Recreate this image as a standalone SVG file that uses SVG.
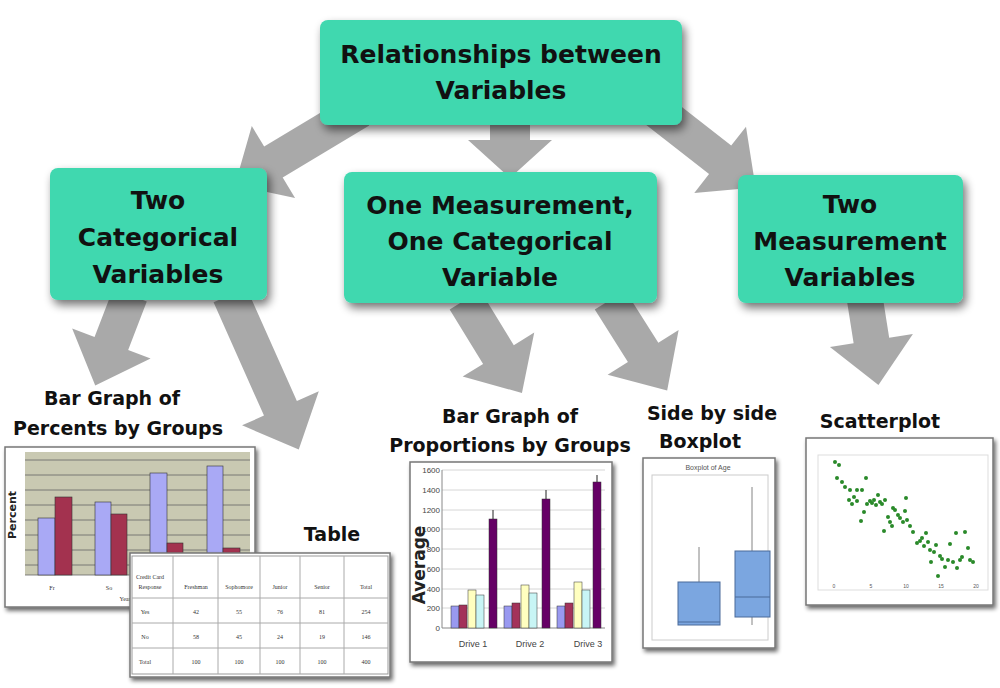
<svg xmlns="http://www.w3.org/2000/svg" width="1000" height="688" viewBox="0 0 1000 688">
<defs>
<filter id="sh" x="-20%" y="-20%" width="140%" height="150%"><feGaussianBlur in="SourceAlpha" stdDeviation="5"/><feOffset dx="3" dy="5"/><feComponentTransfer><feFuncA type="linear" slope="0.55"/></feComponentTransfer><feMerge><feMergeNode/><feMergeNode in="SourceGraphic"/></feMerge></filter>
<filter id="sh2" x="-10%" y="-10%" width="125%" height="125%"><feGaussianBlur in="SourceAlpha" stdDeviation="2"/><feOffset dx="2" dy="3"/><feComponentTransfer><feFuncA type="linear" slope="0.6"/></feComponentTransfer><feMerge><feMergeNode/><feMergeNode in="SourceGraphic"/></feMerge></filter>
</defs>
<style>
.box{fill:#3FD8AF;filter:url(#sh)}
.bt{font-family:"DejaVu Sans",sans-serif;font-weight:bold;font-size:25px;fill:#111;text-anchor:middle}
.cap{font-family:"DejaVu Sans",sans-serif;font-weight:bold;font-size:19px;fill:#111;text-anchor:middle}
.arr{fill:#9a9a9a;opacity:0.85}
.frame{fill:#fff;stroke:#777;stroke-width:1.5;filter:url(#sh2)}
.tiny{font-family:"Liberation Serif",serif;font-size:6px;fill:#333;text-anchor:middle}
.ax{font-family:"Liberation Sans",sans-serif;font-size:9px;fill:#444;text-anchor:middle}
.g{stroke:#666;stroke-width:0.8}
.gr{stroke:#ccc;stroke-width:0.8}
.dot{fill:#2a8a2a}
</style>
<g id="connectors">
<path class="arr" transform="translate(360,110) rotate(149)" d="M0,-18 L101,-18 L101,-42 L146,0 L101,42 L101,18 L0,18Z"/>
<path class="arr" transform="translate(510,110) rotate(90)" d="M0,-20 L30,-20 L30,-42 L68,0 L30,42 L30,20 L0,20Z"/>
<path class="arr" transform="translate(650,105) rotate(38)" d="M0,-18 L89,-18 L89,-42 L134,0 L89,42 L89,18 L0,18Z"/>
<path class="arr" transform="translate(130,295) rotate(111)" d="M0,-18 L52,-18 L52,-42 L97,0 L52,42 L52,18 L0,18Z"/>
<path class="arr" transform="translate(230,295) rotate(66)" d="M0,-18 L124,-18 L124,-42 L169,0 L124,42 L124,18 L0,18Z"/>
<path class="arr" transform="translate(465,300) rotate(58.5)" d="M0,-18 L64,-18 L64,-42 L109,0 L64,42 L64,18 L0,18Z"/>
<path class="arr" transform="translate(610,300) rotate(57.7)" d="M0,-18 L62,-18 L62,-42 L107,0 L62,42 L62,18 L0,18Z"/>
<path class="arr" transform="translate(865,300) rotate(81)" d="M0,-18 L41,-18 L41,-42 L86,0 L41,42 L41,18 L0,18Z"/>
</g>
<g id="n-top"><rect class="box" x="320" y="20" width="362" height="105" rx="8"/><text class="bt" x="501" y="63">Relationships between</text><text class="bt" x="501" y="99">Variables</text></g>
<g id="n-left"><rect class="box" x="50" y="168" width="217" height="132" rx="8"/><text class="bt" x="158" y="209">Two</text><text class="bt" x="158" y="246">Categorical</text><text class="bt" x="158" y="283">Variables</text></g>
<g id="n-mid"><rect class="box" x="344" y="172" width="313" height="131" rx="8"/><text class="bt" x="500" y="214">One Measurement,</text><text class="bt" x="500" y="250">One Categorical</text><text class="bt" x="500" y="286">Variable</text></g>
<g id="n-right"><rect class="box" x="738" y="175" width="225" height="128" rx="8"/><text class="bt" x="850" y="213">Two</text><text class="bt" x="850" y="250">Measurement</text><text class="bt" x="850" y="286">Variables</text></g>

<g id="bar1">
<text class="cap" x="112" y="405">Bar Graph of</text><text class="cap" x="118" y="435">Percents by Groups</text>
<rect class="frame" x="5" y="447" width="250" height="160"/>
<rect x="25" y="452" width="225" height="123" fill="#C9C9B2"/>
<g class="g" stroke="#555"><line x1="25" y1="460" x2="250" y2="460"/><line x1="25" y1="475" x2="250" y2="475"/><line x1="25" y1="490" x2="250" y2="490"/><line x1="25" y1="505" x2="250" y2="505"/><line x1="25" y1="520" x2="250" y2="520"/><line x1="25" y1="535" x2="250" y2="535"/><line x1="25" y1="550" x2="250" y2="550"/><line x1="25" y1="565" x2="250" y2="565"/><line x1="25" y1="575" x2="250" y2="575"/></g>
<g stroke="#333" stroke-width="0.6"><rect x="38" y="518" width="17" height="57" fill="#A9A9F5"/><rect x="55" y="497" width="17" height="78" fill="#A3324F"/>
<rect x="95" y="502" width="16" height="73" fill="#A9A9F5"/><rect x="111" y="514" width="16" height="61" fill="#A3324F"/>
<rect x="150" y="473" width="17" height="102" fill="#A9A9F5"/><rect x="167" y="543" width="16" height="32" fill="#A3324F"/>
<rect x="207" y="466" width="16" height="109" fill="#A9A9F5"/><rect x="223" y="548" width="17" height="27" fill="#A3324F"/></g>
<text x="16" y="515" transform="rotate(-90 16 515)" font-family="DejaVu Sans,sans-serif" font-weight="bold" font-size="11" text-anchor="middle" fill="#222">Percent</text>
<text class="tiny" x="52" y="590">Fr</text><text class="tiny" x="109" y="590">So</text><text class="tiny" x="125" y="601">Year</text>
</g>

<g id="table">
<text class="cap" x="332" y="541">Table</text>
<rect class="frame" x="130" y="553" width="260" height="124"/>
<rect x="132" y="556" width="256" height="118" fill="#fff" stroke="#999"/>
<g stroke="#aaa" stroke-width="1"><line x1="173" y1="556" x2="173" y2="674"/><line x1="218" y1="556" x2="218" y2="674"/><line x1="260" y1="556" x2="260" y2="674"/><line x1="300" y1="556" x2="300" y2="674"/><line x1="344" y1="556" x2="344" y2="674"/>
<line x1="132" y1="598" x2="388" y2="598"/><line x1="132" y1="623" x2="388" y2="623"/><line x1="132" y1="648" x2="388" y2="648"/></g>
<g class="tiny"><text x="150" y="579">Credit Card</text><text x="150" y="589">Response</text><text x="196" y="589">Freshman</text><text x="239" y="589">Sophomore</text><text x="280" y="589">Junior</text><text x="322" y="589">Senior</text><text x="366" y="589">Total</text>
<text x="145" y="614">Yes</text><text x="196" y="614">42</text><text x="239" y="614">55</text><text x="280" y="614">76</text><text x="322" y="614">81</text><text x="366" y="614">254</text>
<text x="145" y="639">No</text><text x="196" y="639">58</text><text x="239" y="639">45</text><text x="280" y="639">24</text><text x="322" y="639">19</text><text x="366" y="639">146</text>
<text x="145" y="664">Total</text><text x="196" y="664">100</text><text x="239" y="664">100</text><text x="280" y="664">100</text><text x="322" y="664">100</text><text x="366" y="664">400</text></g>
</g>

<g id="bar2">
<text class="cap" x="510" y="423">Bar Graph of</text><text class="cap" x="510" y="452">Proportions by Groups</text>
<rect class="frame" x="410" y="462" width="202" height="200"/>
<g class="gr"><line x1="442" y1="470" x2="605" y2="470"/><line x1="442" y1="490" x2="605" y2="490"/><line x1="442" y1="510" x2="605" y2="510"/><line x1="442" y1="529" x2="605" y2="529"/><line x1="442" y1="549" x2="605" y2="549"/><line x1="442" y1="569" x2="605" y2="569"/><line x1="442" y1="589" x2="605" y2="589"/><line x1="442" y1="608" x2="605" y2="608"/></g>
<line x1="442" y1="628" x2="605" y2="628" stroke="#888"/><line x1="442" y1="470" x2="442" y2="628" stroke="#888"/>
<g font-family="Liberation Sans,sans-serif" font-size="8" fill="#444" text-anchor="end"><text x="440" y="473">1600</text><text x="440" y="493">1400</text><text x="440" y="513">1200</text><text x="440" y="532">1000</text><text x="440" y="552">800</text><text x="440" y="572">600</text><text x="440" y="592">400</text><text x="440" y="611">200</text><text x="440" y="631">0</text></g>
<text x="425" y="565" transform="rotate(-90 425 565)" font-family="DejaVu Sans,sans-serif" font-weight="bold" font-size="17" text-anchor="middle" fill="#222">Average</text>
<g stroke="#333" stroke-width="0.5">
<rect x="451" y="606" width="8" height="22" fill="#9999F0"/><rect x="459" y="605" width="8" height="23" fill="#A3325A"/><rect x="468" y="590" width="8" height="38" fill="#FFFFC0"/><rect x="476" y="595" width="8" height="33" fill="#C8F5F5"/><rect x="489" y="519" width="8" height="109" fill="#660066"/>
<rect x="504" y="606" width="8" height="22" fill="#9999F0"/><rect x="512" y="603" width="8" height="25" fill="#A3325A"/><rect x="521" y="585" width="8" height="43" fill="#FFFFC0"/><rect x="529" y="593" width="8" height="35" fill="#C8F5F5"/><rect x="542" y="499" width="8" height="129" fill="#660066"/>
<rect x="557" y="606" width="8" height="22" fill="#9999F0"/><rect x="565" y="603" width="8" height="25" fill="#A3325A"/><rect x="574" y="582" width="8" height="46" fill="#FFFFC0"/><rect x="582" y="590" width="8" height="38" fill="#C8F5F5"/><rect x="593" y="482" width="8" height="146" fill="#660066"/></g>
<g stroke="#222" stroke-width="1"><line x1="493" y1="510" x2="493" y2="519"/><line x1="546" y1="490" x2="546" y2="499"/><line x1="597" y1="475" x2="597" y2="482"/></g>
<g class="ax"><text x="473" y="647">Drive 1</text><text x="530" y="647">Drive 2</text><text x="588" y="647">Drive 3</text></g>
</g>

<g id="boxplot">
<text class="cap" x="712" y="420">Side by side</text><text class="cap" x="700" y="448">Boxplot</text>
<rect class="frame" x="643" y="458" width="132" height="190"/>
<rect x="652" y="475" width="116" height="165" fill="#fff" stroke="#ccc"/>
<text x="708" y="470" font-family="Liberation Sans,sans-serif" font-size="7" fill="#555" text-anchor="middle">Boxplot of Age</text>
<g stroke="#666" stroke-width="0.8"><line x1="699" y1="547" x2="699" y2="582"/><line x1="752" y1="487" x2="752" y2="551"/><line x1="752" y1="617" x2="752" y2="625"/></g>
<rect x="678" y="582" width="42" height="43" fill="#7BA6E0" stroke="#4a6a9a"/><line x1="678" y1="622" x2="720" y2="622" stroke="#4a6a9a"/>
<rect x="735" y="551" width="35" height="66" fill="#7BA6E0" stroke="#4a6a9a"/><line x1="735" y1="597" x2="770" y2="597" stroke="#4a6a9a"/>
</g>

<g id="scatter">
<text class="cap" x="880" y="428">Scatterplot</text>
<rect class="frame" x="806" y="438" width="187" height="167"/>
<rect x="818" y="455" width="170" height="135" fill="#fff" stroke="#ddd"/>
<g class="dot">
<circle cx="835" cy="462" r="2"/><circle cx="839" cy="465" r="2"/><circle cx="837" cy="478" r="2"/><circle cx="842" cy="482" r="2"/><circle cx="845" cy="487" r="2"/><circle cx="850" cy="490" r="2"/><circle cx="849" cy="500" r="2"/><circle cx="852" cy="504" r="2"/><circle cx="854" cy="497" r="2"/><circle cx="857" cy="501" r="2"/><circle cx="857" cy="490" r="2"/><circle cx="862" cy="490" r="2"/><circle cx="866" cy="478" r="2"/><circle cx="861" cy="521" r="2"/><circle cx="864" cy="512" r="2"/><circle cx="867" cy="504" r="2"/><circle cx="870" cy="501" r="2"/><circle cx="872" cy="503" r="2"/><circle cx="874" cy="500" r="2"/><circle cx="876" cy="505" r="2"/><circle cx="878" cy="495" r="2"/><circle cx="880" cy="502" r="2"/><circle cx="882" cy="504" r="2"/><circle cx="885" cy="500" r="2"/><circle cx="884" cy="531" r="2"/><circle cx="888" cy="517" r="2"/><circle cx="890" cy="522" r="2"/><circle cx="892" cy="526" r="2"/><circle cx="893" cy="508" r="2"/><circle cx="895" cy="510" r="2"/><circle cx="898" cy="515" r="2"/><circle cx="900" cy="518" r="2"/><circle cx="903" cy="522" r="2"/><circle cx="905" cy="511" r="2"/><circle cx="906" cy="498" r="2"/><circle cx="907" cy="520" r="2"/><circle cx="910" cy="526" r="2"/><circle cx="913" cy="532" r="2"/><circle cx="917" cy="543" r="2"/><circle cx="920" cy="541" r="2"/><circle cx="922" cy="538" r="2"/><circle cx="924" cy="546" r="2"/><circle cx="926" cy="533" r="2"/><circle cx="928" cy="542" r="2"/><circle cx="930" cy="550" r="2"/><circle cx="931" cy="562" r="2"/><circle cx="934" cy="552" r="2"/><circle cx="936" cy="545" r="2"/><circle cx="940" cy="556" r="2"/><circle cx="942" cy="559" r="2"/><circle cx="945" cy="567" r="2"/><circle cx="948" cy="560" r="2"/><circle cx="950" cy="544" r="2"/><circle cx="953" cy="562" r="2"/><circle cx="956" cy="533" r="2"/><circle cx="960" cy="560" r="2"/><circle cx="962" cy="557" r="2"/><circle cx="965" cy="532" r="2"/><circle cx="968" cy="548" r="2"/><circle cx="970" cy="560" r="2"/><circle cx="973" cy="562" r="2"/><circle cx="957" cy="568" r="2"/><circle cx="938" cy="576" r="2"/></g>
<g font-family="Liberation Sans,sans-serif" font-size="5" fill="#555" text-anchor="middle"><text x="834" y="588">0</text><text x="871" y="588">5</text><text x="906" y="588">10</text><text x="941" y="588">15</text><text x="976" y="588">20</text></g>
</g>
</svg>
